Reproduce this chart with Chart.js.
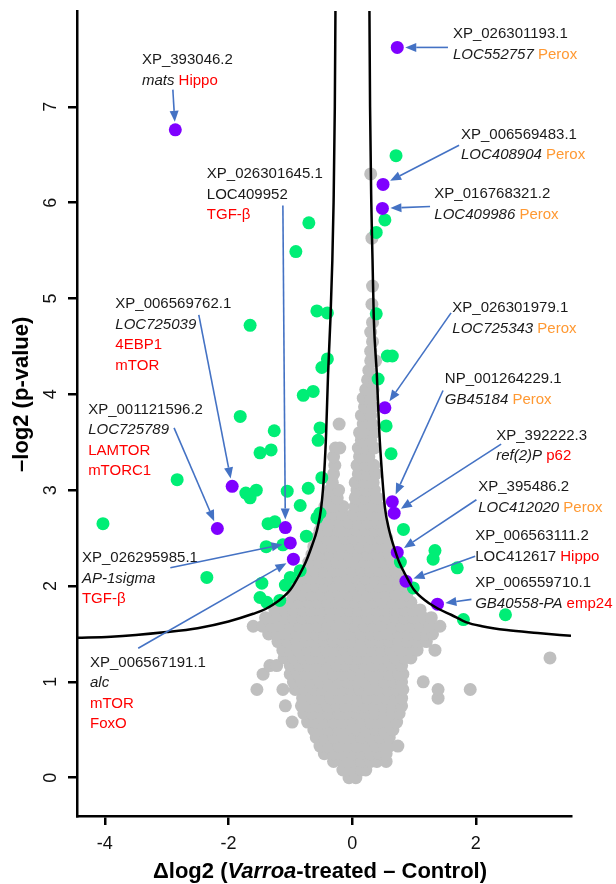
<!DOCTYPE html>
<html>
<head>
<meta charset="utf-8">
<title>Volcano plot</title>
<script src="https://cdn.jsdelivr.net/npm/chart.js@4.4.1/dist/chart.umd.min.js"></script>
<style>
  html, body { margin: 0; padding: 0; background: #fff; }
  #wrap { position: relative; width: 616px; height: 884px; }
</style>
</head>
<body>
<div id="wrap"><canvas id="volcano"></canvas></div>
<script>
// --- Data ---
const xTicks = [-4, -2, 0, 2];
const yTicks = [0, 1, 2, 3, 4, 5, 6, 7];

// significance threshold
const curveLeft = [
  [-4.45, 1.46], [-3.9, 1.47], [-3.0, 1.52], [-2.5, 1.56], [-2.0, 1.63], [-1.6, 1.71],
  [-1.4, 1.76], [-1.2, 1.84], [-1.0, 1.96], [-0.85, 2.12], [-0.75, 2.25], [-0.65, 2.42],
  [-0.57, 2.58], [-0.5, 2.82], [-0.45, 3.2], [-0.42, 3.6], [-0.39, 4.2], [-0.35, 4.8],
  [-0.32, 5.4], [-0.3, 6.0], [-0.28, 7.0], [-0.27, 8.0]
];
const curveRight = [
  [0.28, 8.0], [0.29, 7.0], [0.31, 6.0], [0.33, 5.4], [0.35, 4.8], [0.4, 4.2], [0.44, 3.6],
  [0.48, 3.2], [0.53, 2.82], [0.6, 2.58], [0.67, 2.42], [0.76, 2.25], [0.86, 2.12],
  [1.0, 1.96], [1.2, 1.84], [1.4, 1.76], [1.6, 1.7], [1.85, 1.62], [2.1, 1.58],
  [2.5, 1.54], [3.0, 1.51], [3.54, 1.48]
];

// non-significant proteins, one row per -log2(p) level: [y, [x, x, ...]]
const grayRows = [
  [0.00, [-0.05, 0.06]],
  [0.08, [-0.15, 0.0, 0.15, 0.22]],
  [0.17, [-0.3, -0.15, 0.0, 0.15, 0.3, 0.4, 0.55]],
  [0.25, [-0.45, -0.3, -0.15, 0.0, 0.15, 0.3, 0.45, 0.55]],
  [0.33, [-0.52, -0.38, -0.22, -0.08, 0.08, 0.22, 0.38, 0.52, 0.6, 0.74]],
  [0.42, [-0.58, -0.45, -0.3, -0.15, 0.0, 0.15, 0.3, 0.45, 0.6]],
  [0.50, [-0.62, -0.52, -0.38, -0.22, -0.08, 0.08, 0.22, 0.38, 0.52, 0.66]],
  [0.58, [-0.97, -0.72, -0.6, -0.45, -0.3, -0.15, 0.0, 0.15, 0.3, 0.45, 0.6, 0.72]],
  [0.67, [-0.78, -0.65, -0.52, -0.38, -0.22, -0.08, 0.08, 0.22, 0.38, 0.52, 0.65, 0.76]],
  [0.75, [-1.08, -0.82, -0.7, -0.55, -0.4, -0.25, -0.1, 0.05, 0.2, 0.35, 0.5, 0.65, 0.8]],
  [0.83, [-0.8, -0.65, -0.5, -0.35, -0.2, -0.05, 0.1, 0.25, 0.4, 0.55, 0.7, 0.8, 1.39]],
  [0.92, [-1.54, -1.12, -0.92, -0.78, -0.62, -0.48, -0.32, -0.18, -0.02, 0.12, 0.28, 0.42, 0.58, 0.72, 0.82, 1.39, 1.91]],
  [1.00, [-0.95, -0.82, -0.68, -0.52, -0.38, -0.22, -0.08, 0.08, 0.22, 0.38, 0.52, 0.68, 0.8, 1.15]],
  [1.08, [-1.44, -1.0, -0.88, -0.75, -0.6, -0.45, -0.3, -0.15, 0.0, 0.15, 0.3, 0.45, 0.6, 0.75, 0.82]],
  [1.17, [-1.33, -1.22, -1.0, -0.85, -0.7, -0.55, -0.4, -0.25, -0.1, 0.05, 0.2, 0.35, 0.5, 0.65, 0.8]],
  [1.25, [-1.1, -0.95, -0.8, -0.65, -0.5, -0.35, -0.2, -0.05, 0.1, 0.25, 0.4, 0.55, 0.7, 0.85, 0.95, 3.2]],
  [1.33, [-1.12, -1.0, -0.88, -0.72, -0.58, -0.42, -0.28, -0.12, 0.02, 0.18, 0.32, 0.48, 0.62, 0.78, 0.92, 1.05, 1.34]],
  [1.42, [-1.2, -1.05, -0.9, -0.75, -0.6, -0.45, -0.3, -0.15, 0.0, 0.15, 0.3, 0.45, 0.6, 0.75, 0.9, 1.05, 1.2]],
  [1.50, [-1.35, -1.2, -1.05, -0.9, -0.75, -0.6, -0.45, -0.3, -0.15, 0.0, 0.15, 0.3, 0.45, 0.6, 0.75, 0.9, 1.05, 1.2, 1.3]],
  [1.58, [-1.6, -1.45, -1.3, -1.15, -1.0, -0.85, -0.7, -0.55, -0.4, -0.25, -0.1, 0.05, 0.2, 0.35, 0.5, 0.65, 0.8, 0.95, 1.1, 1.25, 1.42]],
  [1.67, [-1.4, -1.25, -1.1, -0.95, -0.8, -0.65, -0.5, -0.35, -0.2, -0.05, 0.1, 0.25, 0.4, 0.55, 0.7, 0.85, 1.0, 1.15, 1.28]],
  [1.75, [-1.25, -1.1, -0.95, -0.8, -0.65, -0.5, -0.35, -0.2, -0.05, 0.1, 0.25, 0.4, 0.55, 0.7, 0.85, 1.0, 1.1]],
  [1.83, [-1.0, -0.85, -0.7, -0.55, -0.4, -0.25, -0.1, 0.05, 0.2, 0.35, 0.5, 0.65, 0.8, 0.95]],
  [1.91, [-0.95, -0.8, -0.65, -0.5, -0.35, -0.2, -0.05, 0.1, 0.25, 0.4, 0.55, 0.7, 0.88]],
  [2.00, [-0.88, -0.75, -0.6, -0.45, -0.3, -0.15, 0.0, 0.15, 0.3, 0.45, 0.6, 0.75, 0.85]],
  [2.08, [-0.82, -0.68, -0.52, -0.38, -0.22, -0.08, 0.08, 0.22, 0.38, 0.52, 0.68, 0.78]],
  [2.16, [-0.75, -0.6, -0.45, -0.3, -0.15, 0.0, 0.15, 0.3, 0.45, 0.6, 0.7]],
  [2.25, [-0.7, -0.55, -0.4, -0.25, -0.1, 0.05, 0.2, 0.35, 0.5, 0.64]],
  [2.33, [-0.65, -0.5, -0.35, -0.2, -0.05, 0.1, 0.25, 0.4, 0.55, 0.6]],
  [2.41, [-0.62, -0.48, -0.32, -0.18, -0.02, 0.12, 0.28, 0.42, 0.58]],
  [2.50, [-0.58, -0.42, -0.28, -0.12, 0.02, 0.18, 0.32, 0.46, 0.56]],
  [2.58, [-0.52, -0.38, -0.22, -0.08, 0.08, 0.22, 0.38, 0.5]],
  [2.66, [-0.5, -0.35, -0.2, -0.05, 0.1, 0.25, 0.4, 0.48]],
  [2.75, [-0.46, -0.3, -0.16, 0.02, 0.18, 0.32, 0.45]],
  [2.83, [-0.44, -0.3, -0.15, 0.05, 0.2, 0.35, 0.42]],
  [2.92, [-0.38, -0.24, 0.05, 0.2, 0.35, 0.4]],
  [3.00, [-0.36, -0.22, 0.08, 0.22, 0.36]],
  [3.08, [-0.32, 0.05, 0.2, 0.34]],
  [3.17, [-0.3, 0.1, 0.25, 0.38]],
  [3.26, [-0.28, 0.08, 0.22, 0.35]],
  [3.35, [-0.3, 0.12, 0.27]],
  [3.44, [-0.27, -0.2, 0.1, 0.25, 0.36]],
  [3.52, [0.15, 0.3]],
  [3.60, [0.12, 0.27, 0.35]],
  [3.69, [-0.21, 0.18, 0.32]],
  [3.78, [0.15, 0.3]],
  [3.87, [0.2, 0.33]],
  [3.96, [0.18, 0.3]],
  [4.05, [0.22, 0.34]],
  [4.15, [0.25, 0.36]],
  [4.25, [0.27]],
  [4.35, [0.3, 0.38]],
  [4.45, [0.3]],
  [4.55, [0.33]],
  [4.65, [0.3]],
  [4.75, [0.33]],
  [4.94, [0.32]],
  [5.13, [0.33]],
  [5.63, [0.32]],
  [6.30, [0.3]]
];

// significant proteins [x, y]
const greenPts = [
  [0.71, 6.49], [0.53, 5.82], [0.39, 5.69], [-0.70, 5.79], [-0.91, 5.49], [-0.57, 4.87],
  [-0.40, 4.85], [0.39, 4.84], [-1.65, 4.72], [-0.40, 4.37], [-0.49, 4.28], [0.57, 4.40],
  [0.65, 4.40], [0.42, 4.16], [-0.79, 3.99], [-0.63, 4.03], [-1.81, 3.77], [-1.26, 3.62],
  [-1.49, 3.39], [-1.31, 3.42], [-0.52, 3.65], [-0.55, 3.52], [0.55, 3.67], [0.63, 3.38],
  [-2.83, 3.11], [-1.72, 2.97], [-1.55, 3.00], [-1.65, 2.92], [-1.05, 2.99], [-0.71, 3.02],
  [-0.49, 3.13], [-0.84, 2.84], [-4.03, 2.65], [-1.36, 2.65], [-1.25, 2.67], [-1.39, 2.41],
  [-1.12, 2.43], [-0.74, 2.52], [-0.57, 2.71], [-0.52, 2.76], [-2.35, 2.09], [-1.46, 2.03],
  [-1.00, 2.09], [-1.08, 2.01], [-0.84, 2.16], [-1.49, 1.88], [-1.38, 1.83], [-1.17, 1.85],
  [0.83, 2.59], [1.34, 2.37], [1.31, 2.28], [1.70, 2.19], [0.99, 1.98], [1.80, 1.65],
  [2.48, 1.70], [0.78, 2.25]
];

// highlighted proteins, same order as the labels below
const purplePts = [
  [-2.86, 6.76], [0.73, 7.62], [0.50, 6.19], [0.49, 5.94], [0.53, 3.86], [0.65, 2.88],
  [0.68, 2.76], [0.73, 2.35], [0.87, 2.05], [1.38, 1.81], [-1.08, 2.61], [-1.94, 3.04],
  [-2.18, 2.60], [-1.00, 2.45], [-0.95, 2.28]
];

// label text: segments [text, style] with n=normal, i=italic, r=red, o=orange
// at = left/middle of first line, from = arrow tail (both in data units)
const labels = [
  { at: [-3.40, 7.49], from: [-2.90, 7.18], lines: [[['XP_393046.2', 'n']], [['mats', 'i'], [' Hippo', 'r']]] },
  { at: [1.63, 7.76], from: [1.55, 7.62], lines: [[['XP_026301193.1', 'n']], [['LOC552757', 'i'], [' Perox', 'o']]] },
  { at: [1.76, 6.71], from: [1.73, 6.60], lines: [[['XP_006569483.1', 'n']], [['LOC408904', 'i'], [' Perox', 'o']]] },
  { at: [1.33, 6.09], from: [1.26, 5.96], lines: [[['XP_016768321.2', 'n']], [['LOC409986', 'i'], [' Perox', 'o']]] },
  { at: [1.62, 4.90], from: [1.60, 4.85], lines: [[['XP_026301979.1', 'n']], [['LOC725343', 'i'], [' Perox', 'o']]] },
  { at: [1.50, 4.16], from: [1.47, 4.04], lines: [[['NP_001264229.1', 'n']], [['GB45184', 'i'], [' Perox', 'o']]] },
  { at: [2.33, 3.57], from: [2.41, 3.48], lines: [[['XP_392222.3', 'n']], [['ref(2)P', 'i'], [' p62', 'r']]] },
  { at: [2.04, 3.03], from: [2.01, 2.90], lines: [[['XP_395486.2', 'n']], [['LOC412020', 'i'], [' Perox', 'o']]] },
  { at: [1.99, 2.52], from: [1.99, 2.31], lines: [[['XP_006563111.2', 'n']], [['LOC412617', 'n'], [' Hippo', 'r']]] },
  { at: [1.99, 2.03], from: [1.93, 1.86], lines: [[['XP_006559710.1', 'n']], [['GB40558-PA', 'i'], [' emp24', 'r']]] },
  { at: [-2.35, 6.30], from: [-1.12, 5.97], lines: [[['XP_026301645.1', 'n']], [['LOC409952', 'n']], [['TGF-β', 'r']]] },
  { at: [-3.83, 4.94], from: [-2.48, 4.83], lines: [[['XP_006569762.1', 'n']], [['LOC725039', 'i']], [['4EBP1', 'r']], [['mTOR', 'r']]] },
  { at: [-4.27, 3.84], from: [-2.88, 3.65], lines: [[['XP_001121596.2', 'n']], [['LOC725789', 'i']], [['LAMTOR', 'r']], [['mTORC1', 'r']]] },
  { at: [-4.37, 2.29], from: [-2.94, 2.19], lines: [[['XP_026295985.1', 'n']], [['AP-1sigma', 'i']], [['TGF-β', 'r']]] },
  { at: [-4.24, 1.20], from: [-3.46, 1.35], lines: [[['XP_006567191.1', 'n']], [['alc', 'i']], [['mTOR', 'r']], [['FoxO', 'r']]] }
];

// --- Styles ---
const FONT = '"Liberation Sans", Arial, sans-serif';
const GRAY = '#BFBFBF';
const GREEN = '#00EE76';
const PURPLE = '#7F00FF';
const ARROW = '#4472C4';
const RED = '#FF0000';
const ORANGE = '#FF9933';
const DOT = 6.5;
const LINE_H = 20.5;

const toXY = arr => arr.map(p => ({ x: p[0], y: p[1] }));
const grayPts = [];
grayRows.forEach(([yv, xs]) => xs.forEach(xv => grayPts.push({ x: xv, y: yv })));

// --- Helpers ---
function drawSegments(ctx, segs, px, py) {
  let cx = px;
  segs.forEach(([txt, st]) => {
    ctx.font = (st === 'i' ? 'italic ' : '') + '15px ' + FONT;
    ctx.fillStyle = st === 'r' ? RED : (st === 'o' ? ORANGE : '#1a1a1a');
    ctx.fillText(txt, cx, py);
    cx += ctx.measureText(txt).width;
  });
}

function drawArrow(ctx, x0, y0, x1, y1) {
  const ang = Math.atan2(y1 - y0, x1 - x0);
  const cos = Math.cos(ang), sin = Math.sin(ang);
  // stop at the edge of the dot
  const tx = x1 - cos * (DOT + 1.5), ty = y1 - sin * (DOT + 1.5);
  const hl = 11, hw = 4.5;
  const bx = tx - cos * hl, by = ty - sin * hl;
  ctx.beginPath();
  ctx.moveTo(x0, y0);
  ctx.lineTo(bx, by);
  ctx.stroke();
  ctx.beginPath();
  ctx.moveTo(tx, ty);
  ctx.lineTo(bx - sin * hw, by + cos * hw);
  ctx.lineTo(bx + sin * hw, by - cos * hw);
  ctx.closePath();
  ctx.fill();
}

// labels, arrows, y tick labels and axis titles
const overlay = {
  id: 'overlay',
  afterDatasetsDraw(chart) {
    const { ctx, scales: { x, y } } = chart;
    ctx.save();
    ctx.textBaseline = 'middle';
    ctx.textAlign = 'left';
    labels.forEach((lb, i) => {
      const px = x.getPixelForValue(lb.at[0]);
      const py = y.getPixelForValue(lb.at[1]);
      lb.lines.forEach((segs, k) => drawSegments(ctx, segs, px, py + k * LINE_H));
      ctx.strokeStyle = ARROW;
      ctx.fillStyle = ARROW;
      ctx.lineWidth = 1.6;
      const t = purplePts[i];
      drawArrow(ctx, x.getPixelForValue(lb.from[0]), y.getPixelForValue(lb.from[1]),
        x.getPixelForValue(t[0]), y.getPixelForValue(t[1]));
    });
    ctx.restore();
  },
  afterDraw(chart) {
    const { ctx, scales: { x, y }, chartArea } = chart;
    ctx.save();
    // y tick labels, rotated like base R
    ctx.fillStyle = '#111';
    ctx.font = '18px ' + FONT;
    ctx.textAlign = 'center';
    ctx.textBaseline = 'middle';
    yTicks.forEach(v => {
      ctx.save();
      ctx.translate(51, y.getPixelForValue(v));
      ctx.rotate(-Math.PI / 2);
      ctx.fillText(String(v), 0, 0);
      ctx.restore();
    });
    // y title
    ctx.fillStyle = '#000';
    ctx.font = 'bold 22px ' + FONT;
    ctx.save();
    ctx.translate(22, (y.getPixelForValue(0) + y.getPixelForValue(8)) / 2);
    ctx.rotate(-Math.PI / 2);
    ctx.fillText('–log2 (p-value)', 0, 0);
    ctx.restore();
    // x title with italic Varroa
    const parts = [['Δlog2 (', 'bold '], ['Varroa', 'italic bold '], ['-treated – Control)', 'bold ']];
    let total = 0;
    parts.forEach(p => { ctx.font = p[1] + '22px ' + FONT; total += ctx.measureText(p[0]).width; });
    let cx = (chartArea.left + chartArea.right) / 2 - 4 - total / 2;
    ctx.textAlign = 'left';
    parts.forEach(p => {
      ctx.font = p[1] + '22px ' + FONT;
      ctx.fillText(p[0], cx, 872);
      cx += ctx.measureText(p[0]).width;
    });
    ctx.restore();
  }
};

// --- Chart ---
const ctx = document.getElementById('volcano').getContext('2d');
new Chart(ctx, {
  type: 'scatter',
  data: {
    datasets: [
      { type: 'line', data: toXY(curveLeft), borderColor: '#000', borderWidth: 2.5, pointRadius: 0,
        cubicInterpolationMode: 'monotone', fill: false, order: 0 },
      { type: 'line', data: toXY(curveRight), borderColor: '#000', borderWidth: 2.5, pointRadius: 0,
        cubicInterpolationMode: 'monotone', fill: false, order: 0 },
      { data: toXY(purplePts), backgroundColor: PURPLE, pointRadius: DOT, borderWidth: 0, order: 1 },
      { data: toXY(greenPts), backgroundColor: GREEN, pointRadius: DOT, borderWidth: 0, order: 2 },
      { data: grayPts, backgroundColor: GRAY, pointRadius: DOT, borderWidth: 0, order: 3 }
    ]
  },
  options: {
    responsive: true,
    maintainAspectRatio: false,
    animation: false,
    events: [],
    layout: { padding: { left: 0, right: 45, top: 11, bottom: 0 } },
    plugins: { legend: { display: false }, tooltip: { enabled: false } },
    scales: {
      x: {
        type: 'linear', min: -4.45, max: 3.54,
        afterBuildTicks: s => { s.ticks = xTicks.map(v => ({ value: v })); },
        afterFit: s => { s.height = 68; },
        grid: { drawOnChartArea: false, color: '#000', lineWidth: 2.5, tickLength: 9 },
        border: { color: '#000', width: 2.5 },
        ticks: { color: '#111', font: { family: FONT, size: 18 }, padding: 8 }
      },
      y: {
        type: 'linear', min: -0.4, max: 8,
        afterBuildTicks: s => { s.ticks = yTicks.map(v => ({ value: v })); },
        afterFit: s => { s.width = 77; },
        grid: { drawOnChartArea: false, color: '#000', lineWidth: 2.5, tickLength: 9 },
        border: { color: '#000', width: 2.5 },
        ticks: { display: false }
      }
    }
  },
  plugins: [overlay]
});
</script>
</body>
</html>
